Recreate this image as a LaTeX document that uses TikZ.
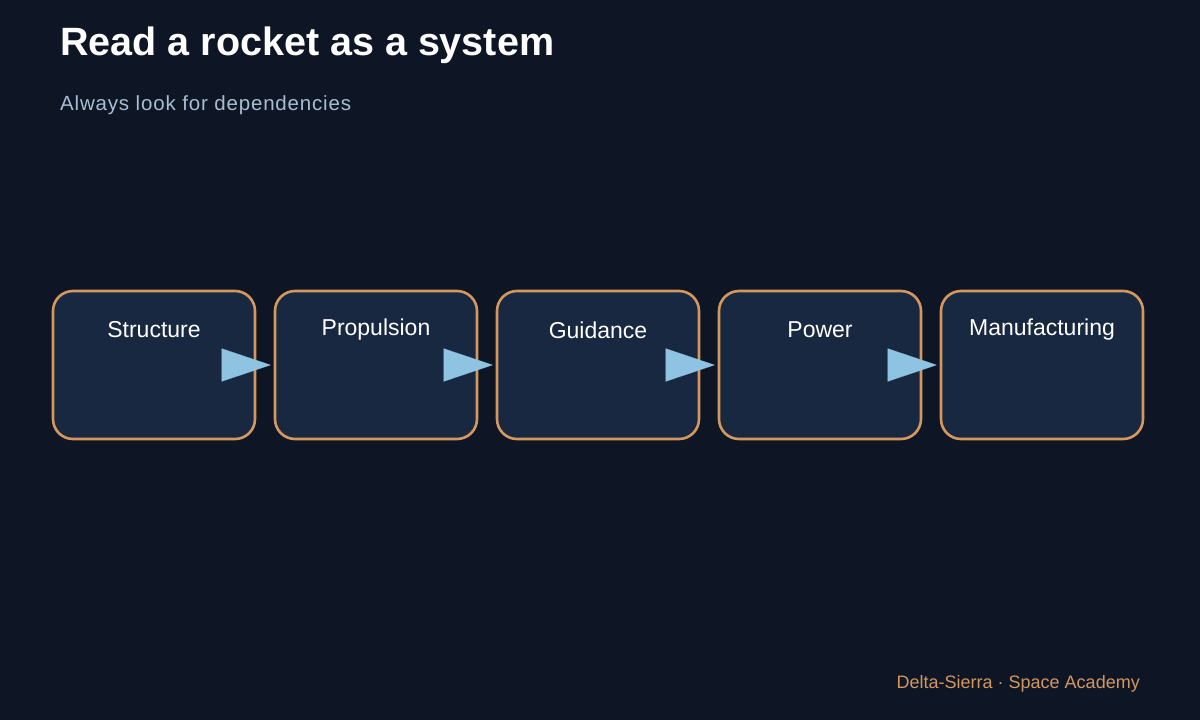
\documentclass[tikz,border=0pt]{standalone}
\usepackage{fontspec}
\setmainfont{Liberation Sans}
\usetikzlibrary{arrows.meta}
\definecolor{bg}{HTML}{0E1626}
\definecolor{boxfill}{HTML}{182841}
\definecolor{edge}{HTML}{D4975E}
\definecolor{arr}{HTML}{8EC3E2}
\definecolor{sub}{HTML}{A8BDD2}
\begin{document}
\begin{tikzpicture}[x=1pt,y=-1pt,
 box/.style={draw=edge,line width=2.6pt,fill=boxfill,rounded corners=20pt,minimum width=202pt,minimum height=148pt,inner sep=0pt},
 lab/.style={text=white,font=\fontsize{23pt}{27pt}\selectfont,anchor=center},
 link/.style={draw=arr,line width=0.1pt,-{Triangle[length=49pt,width=33pt,fill=arr]},shorten >=3pt}]
\fill[bg] (0,0) rectangle (1200,720);
\useasboundingbox (0,0) rectangle (1200,720);
\node[anchor=west,text=white,font=\fontsize{39.5pt}{46pt}\selectfont\bfseries,inner sep=0pt] (title) at (60,45) {Read a rocket as a system};
\node[anchor=west,text=sub,font=\fontsize{20.5pt}{24pt}\selectfont,inner sep=0pt] (subtitle) at (60,105) {\addfontfeatures{LetterSpace=4}Always look for dependencies};
\foreach \n/\x/\t in {a/154/Structure,b/376/Propulsion,c/598/Guidance,d/820/Power,e/1042/Manufacturing}{
 \node[box] (\n) at (\x,365) {};
 \node[lab] (\n t) at (\x,330) {\t};
}
\draw[link] (a.east) -- (b.west);
\draw[link] (b.east) -- (c.west);
\draw[link] (c.east) -- (d.west);
\draw[link] (d.east) -- (e.west);
\node[anchor=east,text=edge,font=\fontsize{18pt}{21pt}\selectfont,inner sep=0pt] (footer) at (1140,684) {Delta-Sierra · Space Academy};
\end{tikzpicture}
\end{document}
